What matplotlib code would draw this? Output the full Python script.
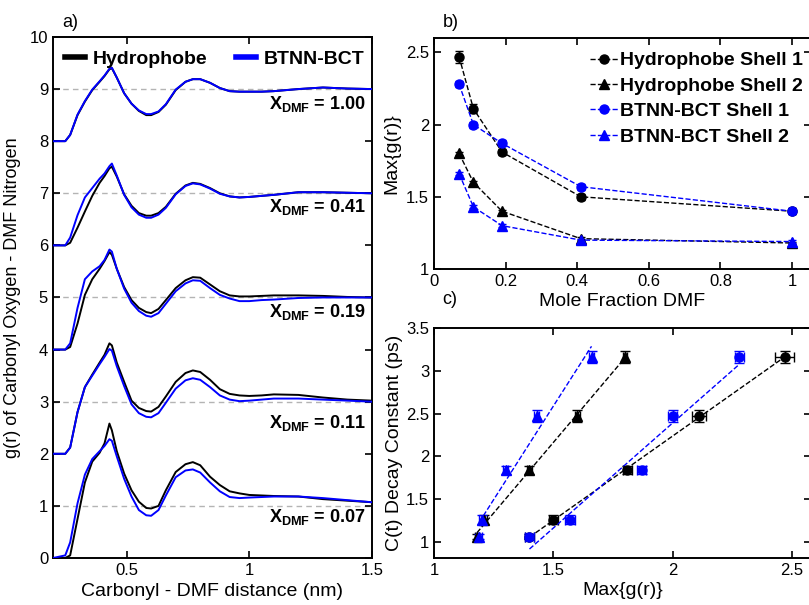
import numpy as np
import matplotlib
matplotlib.use("Agg")
from matplotlib import pyplot as plt
from matplotlib.ticker import FuncFormatter

plt.rcParams['font.family'] = ['Liberation Sans', 'DejaVu Sans']
plt.rcParams['mathtext.fontset'] = 'custom'
plt.rcParams['mathtext.rm'] = 'Liberation Sans'
plt.rcParams['mathtext.bf'] = 'Liberation Sans:bold'
plt.rcParams['xtick.direction'] = 'in'
plt.rcParams['ytick.direction'] = 'in'

# ---- panel a: g(r) curves (unshifted) ----
r = [0.20, 0.25, 0.27, 0.30, 0.33, 0.36, 0.39, 0.41, 0.43, 0.44, 0.46, 0.49, 0.52,
     0.55, 0.58, 0.60, 0.63, 0.66, 0.70, 0.74, 0.77, 0.80, 0.84, 0.88, 0.92, 0.96,
     1.00, 1.05, 1.10, 1.20, 1.30, 1.40, 1.50]

fractions = ['0.07', '0.11', '0.19', '0.41', '1.00']
offsets = [0, 2, 4, 6, 8]

hydro_007 = [0, 0, 0.05, 0.75, 1.45, 1.85, 2.02, 2.20, 2.58, 2.45, 2.05, 1.62, 1.30,
             1.08, 0.96, 0.95, 1.00, 1.30, 1.65, 1.80, 1.84, 1.78, 1.56, 1.40, 1.28, 1.24,
             1.21, 1.20, 1.19, 1.18, 1.13, 1.10, 1.07]
btnn_007 = [0, 0.05, 0.30, 1.05, 1.60, 1.90, 2.05, 2.15, 2.28, 2.25, 1.95, 1.52, 1.18,
            0.92, 0.82, 0.81, 0.92, 1.20, 1.55, 1.68, 1.70, 1.64, 1.45, 1.28, 1.17, 1.15,
            1.16, 1.17, 1.18, 1.18, 1.15, 1.11, 1.07]
hydro_011 = [0, 0, 0.12, 0.80, 1.28, 1.52, 1.75, 1.90, 2.12, 2.08, 1.75, 1.38, 1.02,
             0.88, 0.82, 0.81, 0.90, 1.10, 1.38, 1.55, 1.60, 1.57, 1.42, 1.24, 1.15, 1.12,
             1.11, 1.12, 1.14, 1.13, 1.08, 1.04, 1.02]
btnn_011 = [0, 0, 0.12, 0.80, 1.28, 1.50, 1.72, 1.86, 2.01, 1.98, 1.68, 1.30, 0.95,
            0.78, 0.71, 0.70, 0.78, 0.98, 1.25, 1.41, 1.45, 1.42, 1.28, 1.12, 1.04, 1.01,
            1.02, 1.04, 1.06, 1.06, 1.04, 1.02, 1.00]
hydro_019 = [0, 0, 0.05, 0.50, 1.05, 1.35, 1.55, 1.70, 1.87, 1.82, 1.55, 1.20, 0.95,
             0.80, 0.72, 0.70, 0.78, 0.95, 1.18, 1.33, 1.39, 1.38, 1.25, 1.12, 1.04, 1.02,
             1.02, 1.03, 1.04, 1.04, 1.03, 1.01, 1.00]
btnn_019 = [0, 0, 0.12, 0.80, 1.35, 1.50, 1.60, 1.72, 1.92, 1.88, 1.55, 1.17, 0.90,
            0.74, 0.65, 0.63, 0.70, 0.88, 1.12, 1.27, 1.33, 1.32, 1.18, 1.05, 0.98, 0.93,
            0.93, 0.95, 0.96, 0.99, 1.00, 1.00, 1.00]
hydro_041 = [0, 0, 0.05, 0.34, 0.65, 0.95, 1.20, 1.33, 1.48, 1.51, 1.32, 0.98, 0.76,
             0.62, 0.57, 0.57, 0.62, 0.74, 0.99, 1.15, 1.20, 1.18, 1.10, 1.00, 0.94, 0.92,
             0.93, 0.95, 0.97, 1.02, 1.02, 1.01, 1.00]
btnn_041 = [0, 0, 0.15, 0.58, 0.92, 1.10, 1.28, 1.38, 1.52, 1.57, 1.34, 0.97, 0.73,
            0.59, 0.53, 0.53, 0.59, 0.72, 0.98, 1.14, 1.19, 1.17, 1.09, 0.99, 0.94, 0.92,
            0.93, 0.95, 0.97, 1.02, 1.02, 1.01, 1.00]
hydro_100 = [0, 0, 0.12, 0.50, 0.76, 0.98, 1.14, 1.25, 1.38, 1.40, 1.22, 0.92, 0.72,
             0.58, 0.50, 0.50, 0.56, 0.70, 0.98, 1.14, 1.19, 1.19, 1.12, 1.02, 0.96, 0.95,
             0.95, 0.95, 0.96, 1.00, 1.03, 1.01, 1.00]
btnn_100 = [0, 0, 0.12, 0.51, 0.77, 0.99, 1.15, 1.26, 1.39, 1.41, 1.22, 0.92, 0.72,
            0.59, 0.52, 0.52, 0.57, 0.71, 0.99, 1.14, 1.19, 1.19, 1.12, 1.02, 0.96, 0.95,
            0.95, 0.95, 0.96, 1.00, 1.03, 1.01, 1.00]

hydro_curves = [hydro_007, hydro_011, hydro_019, hydro_041, hydro_100]
btnn_curves = [btnn_007, btnn_011, btnn_019, btnn_041, btnn_100]

# ---- panels b and c ----
x_dmf = [0.07, 0.11, 0.19, 0.41, 1.00]
hydro_shell1 = [2.47, 2.11, 1.81, 1.50, 1.40]
hydro_shell2 = [1.80, 1.60, 1.40, 1.21, 1.18]
btnn_shell1 = [2.28, 2.00, 1.87, 1.57, 1.40]
btnn_shell2 = [1.66, 1.43, 1.30, 1.20, 1.19]
hydro_shell1_err = [0.04, 0.03, 0.02, 0.02, 0.02]
hydro_shell2_err = [0.01, 0.01, 0.01, 0.01, 0.01]
btnn_shell1_err = [0.02, 0.02, 0.02, 0.02, 0.02]
btnn_shell2_err = [0.01, 0.01, 0.01, 0.01, 0.01]

decay = [3.16, 2.47, 1.84, 1.26, 1.06]
decay_err = [0.07, 0.07, 0.05, 0.05, 0.03]

BLUE = '#0000ff'
fmt = FuncFormatter(lambda v, p: '%g' % v)
fig = plt.figure(figsize=(8.09, 6.05), dpi=100)

# ---------------- a ----------------
ax = fig.add_axes([0.0655, 0.0777, 0.3943, 0.8612])
for off in offsets:
    ax.axhline(off + 1, color='#b4b4b4', ls=(0, (4, 3)), lw=1.0, zorder=1)
for i, off in enumerate(offsets):
    ax.plot(r, np.array(hydro_curves[i]) + off, color='k', lw=1.4, zorder=2,
            label='Hydrophobe' if i == 0 else None)
    ax.plot(r, np.array(btnn_curves[i]) + off, color=BLUE, lw=1.4, zorder=3,
            label='BTNN-BCT' if i == 0 else None)
label_y = [0.79, 2.6, 4.72, 6.74, 8.72]
for frac, ly in zip(fractions, label_y):
    ax.text(1.475, ly, r'$\mathbf{X_{DMF}}$' + ' = ' + frac, ha='right', va='center',
            fontsize=13, fontweight='bold')
ax.set_xlim(0.2, 1.5)
ax.set_ylim(0, 10)
ax.set_xticks([0.5, 1, 1.5])
ax.set_yticks(range(0, 11))
ax.xaxis.set_major_formatter(fmt)
ax.tick_params(labelsize=12, top=True, right=True, width=1.2, length=5)
ax.set_xlabel('Carbonyl - DMF distance (nm)', fontsize=14, labelpad=4)
ax.set_ylabel('g(r) of Carbonyl Oxygen - DMF Nitrogen', fontsize=13, labelpad=6)
leg = ax.legend(loc='upper left', bbox_to_anchor=(0.038, 0.975), ncol=2, frameon=False,
                prop={'weight': 'bold', 'size': 14}, handlelength=1.0,
                handletextpad=0.4, columnspacing=1.5, borderpad=0, borderaxespad=0)
for h in leg.get_lines():
    h.set_linewidth(4)
for s in ax.spines.values():
    s.set_linewidth(1.4)
fig.text(0.077, 0.963, 'a)', fontsize=13, va='center')

# ---------------- b ----------------
bx = fig.add_axes([0.5365, 0.5554, 0.466, 0.3818])
bx.errorbar(x_dmf, hydro_shell1, yerr=hydro_shell1_err, color='k', ls='--', lw=1,
            marker='o', ms=6.5, capsize=3, label='Hydrophobe Shell 1')
bx.errorbar(x_dmf, hydro_shell2, yerr=hydro_shell2_err, color='k', ls='--', lw=1,
            marker='^', ms=7, capsize=3, label='Hydrophobe Shell 2')
bx.errorbar(x_dmf, btnn_shell1, yerr=btnn_shell1_err, color=BLUE, ls='--', lw=1,
            marker='o', ms=6.5, capsize=3, label='BTNN-BCT Shell 1')
bx.errorbar(x_dmf, btnn_shell2, yerr=btnn_shell2_err, color=BLUE, ls='--', lw=1,
            marker='^', ms=7, capsize=3, label='BTNN-BCT Shell 2')
bx.set_xlim(0, 1.053)
bx.set_ylim(1, 2.6)
bx.set_xticks([0, 0.2, 0.4, 0.6, 0.8, 1])
bx.set_yticks([1, 1.5, 2, 2.5])
bx.xaxis.set_major_formatter(fmt)
bx.yaxis.set_major_formatter(fmt)
bx.tick_params(labelsize=12, top=True, right=True, width=1.2, length=5)
bx.set_xlabel('Mole Fraction DMF', fontsize=14, labelpad=3)
bx.set_ylabel('Max{g(r)}', fontsize=14, labelpad=4)
hs, ls_ = bx.get_legend_handles_labels()
bx.legend([h[0] for h in hs], ls_, loc='upper left', bbox_to_anchor=(0.414, 0.94),
          frameon=False, prop={'weight': 'bold', 'size': 14}, handlelength=1.45,
          handletextpad=0.1, labelspacing=0.4, borderpad=0, borderaxespad=0)
for s in bx.spines.values():
    s.set_linewidth(1.4)
fig.text(0.547, 0.963, 'b)', fontsize=13, va='center')

# ---------------- c ----------------
cx = fig.add_axes([0.5365, 0.0777, 0.466, 0.3802])
sets = [(hydro_shell2, hydro_shell2_err, 'k', '^'),
        (hydro_shell1, hydro_shell1_err, 'k', 'o'),
        (btnn_shell2, btnn_shell2_err, BLUE, '^'),
        (btnn_shell1, btnn_shell1_err, BLUE, 'o')]
for gx, gerr, col, mk in sets:
    k, b0 = np.polyfit(gx, decay, 1)
    xs = np.array([min(gx), max(gx)])
    cx.plot(xs, k * xs + b0, color=col, ls='--', lw=1)
    cx.errorbar(gx, decay, xerr=gerr, yerr=decay_err, color=col, ls='none',
                marker=mk, ms=6.5, capsize=3.5, elinewidth=1)
cx.set_xlim(1, 2.58)
cx.set_ylim(0.813, 3.5)
cx.set_xticks([1, 1.5, 2, 2.5])
cx.set_yticks([1, 1.5, 2, 2.5, 3, 3.5])
cx.xaxis.set_major_formatter(fmt)
cx.yaxis.set_major_formatter(fmt)
cx.tick_params(labelsize=12, top=True, right=True, width=1.2, length=5)
cx.set_xlabel('Max{g(r)}', fontsize=14, labelpad=3)
cx.set_ylabel('C(t) Decay Constant (ps)', fontsize=14, labelpad=2)
for s in cx.spines.values():
    s.set_linewidth(1.4)
fig.text(0.547, 0.505, 'c)', fontsize=13, va='center')

fig.savefig('out.png', dpi=100)
